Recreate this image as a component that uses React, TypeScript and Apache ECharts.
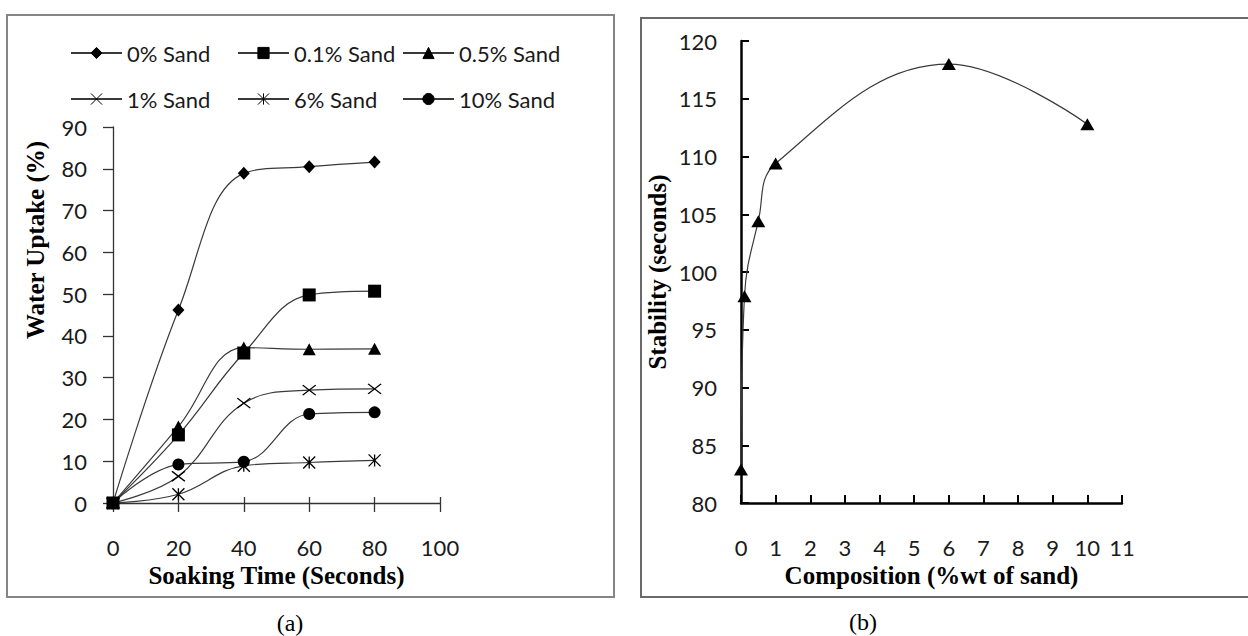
import React, { useEffect, useRef } from 'react';
import * as echarts from 'echarts';

// ---- Data: panel (a) ----
const soakingTime = [0, 20, 40, 60, 80];
const seriesNames = ['0% Sand', '0.1% Sand', '0.5% Sand', '1% Sand', '6% Sand', '10% Sand'];
const uptakeSand0 = [0, 46.2, 78.9, 80.5, 81.6];
const uptakeSand01 = [0, 16.3, 35.9, 49.8, 50.7];
const uptakeSand05 = [0, 18.3, 37.2, 36.8, 36.9];
const uptakeSand1 = [0, 6.4, 23.9, 27.0, 27.3];
const uptakeSand6 = [0, 2.1, 8.9, 9.7, 10.2];
const uptakeSand10 = [0, 9.2, 9.9, 21.3, 21.7];

// ---- Data: panel (b) ----
const composition = [0, 0.1, 0.5, 1, 6, 10];
const stability = [82.9, 97.9, 104.4, 109.4, 118.0, 112.8];

const X_PATH = 'path://M0,0L10,10M10,0L0,10';
const STAR_PATH = 'path://M0,0L10,10M10,0L0,10M5,0L5,10';

const TICK_FONT = 'Lato';
const TITLE_FONT = 'Liberation Serif';

export default function App() {
  const ref = useRef<HTMLDivElement>(null);

  useEffect(() => {
    if (!ref.current) return;
    const chart = echarts.init(ref.current, undefined, { renderer: 'svg' });

    const uptakes = [uptakeSand0, uptakeSand01, uptakeSand05, uptakeSand1, uptakeSand6, uptakeSand10];
    const symbols: any[] = ['diamond', 'rect', 'triangle', X_PATH, STAR_PATH, 'circle'];
    const symbolSizes: any[] = [[12, 13], 13, [13, 12], [13, 10], [12, 12], 12];
    const stroked = [false, false, false, true, true, false];

    const lineSeries = uptakes.map((vals, i) => ({
      name: seriesNames[i],
      type: 'line',
      xAxisIndex: 0,
      yAxisIndex: 0,
      data: soakingTime.map((t, j) => [t, vals[j]]),
      smooth: 0.4,
      symbol: symbols[i],
      symbolSize: symbolSizes[i],
      showAllSymbol: true,
      lineStyle: { color: '#3a3a3a', width: 1.2 },
      itemStyle: stroked[i]
        ? { color: '#000', borderColor: '#000', borderWidth: 1.3 }
        : { color: '#000', borderWidth: 0 },
      emphasis: { disabled: true },
      z: 3,
    }));

    const columns = [[0, 3], [1, 4], [2, 5]];
    const legendLefts = [70, 237, 402];
    const legends = columns.map((c, i) => ({
      left: legendLefts[i],
      top: 42,
      padding: 0,
      orient: 'vertical',
      itemGap: 24,
      itemWidth: 51,
      itemHeight: 14,
      selectedMode: false,
      data: c.map((j) => seriesNames[j]),
      textStyle: { fontFamily: TICK_FONT, fontSize: 22, color: '#1a1a1a', lineHeight: 22 },
      itemStyle: { borderColor: '#000', borderWidth: 1 },
    }));

    const tickLabel = { fontFamily: TICK_FONT, fontSize: 22, color: '#1a1a1a' };
    const titleStyle = { fontFamily: TITLE_FONT, fontWeight: 'bold', fontSize: 25, color: '#000' };

    chart.setOption({
      animation: false,
      backgroundColor: '#fff',
      legend: legends,
      grid: [
        { left: 113, top: 127, width: 327, height: 376 },
        { left: 741, top: 41, width: 381, height: 462 },
      ],
      xAxis: [
        {
          gridIndex: 0, type: 'value', min: 0, max: 100, interval: 20,
          axisLine: { show: true, lineStyle: { color: '#333', width: 1.3 } },
          axisTick: { show: true, inside: false, length: 9, lineStyle: { color: '#333', width: 1.3 } },
          axisLabel: { ...tickLabel, margin: 33 },
          splitLine: { show: false },
          name: 'Soaking Time (Seconds)', nameLocation: 'middle', nameGap: 59,
          nameTextStyle: titleStyle,
        },
        {
          gridIndex: 0, type: 'value', min: 0, max: 100, interval: 20, position: 'bottom',
          axisLine: { show: false },
          axisTick: { show: true, inside: true, length: 6, lineStyle: { color: '#333', width: 1.3 } },
          axisLabel: { show: false },
          splitLine: { show: false },
        },
        {
          gridIndex: 1, type: 'value', min: 0, max: 11, interval: 1,
          axisLine: { show: true, onZero: false, lineStyle: { color: '#000', width: 2.5 } },
          axisTick: { show: true, inside: true, length: 8, lineStyle: { color: '#000', width: 2 } },
          axisLabel: { ...tickLabel, margin: 33 },
          splitLine: { show: false },
          name: 'Composition (%wt of sand)', nameLocation: 'middle', nameGap: 59,
          nameTextStyle: titleStyle,
        },
      ],
      yAxis: [
        {
          gridIndex: 0, type: 'value', min: 0, max: 90, interval: 10,
          axisLine: { show: true, lineStyle: { color: '#333', width: 1.3 } },
          axisTick: { show: true, inside: false, length: 10, lineStyle: { color: '#333', width: 1.3 } },
          axisLabel: { ...tickLabel, margin: 26 },
          splitLine: { show: false },
        },
        {
          gridIndex: 1, type: 'value', min: 80, max: 120, interval: 5,
          axisLine: { show: true, onZero: false, lineStyle: { color: '#000', width: 2.5 } },
          axisTick: { show: true, inside: true, length: 8, lineStyle: { color: '#000', width: 2 } },
          axisLabel: { ...tickLabel, margin: 24 },
          splitLine: { show: false },
        },
      ],
      series: [
        ...lineSeries,
        {
          name: 'Stability',
          type: 'line',
          xAxisIndex: 2,
          yAxisIndex: 1,
          data: composition.map((c, j) => [c, stability[j]]),
          smooth: 0.4,
          symbol: 'triangle',
          symbolSize: [14, 12],
          lineStyle: { color: '#3a3a3a', width: 1.2 },
          itemStyle: { color: '#000', borderWidth: 0 },
          emphasis: { disabled: true },
          z: 3,
        },
      ],
      graphic: [
        {
          type: 'rect', z: -10, silent: true,
          shape: { x: 7, y: 15, width: 607, height: 582 },
          style: { fill: 'none', stroke: '#858585', lineWidth: 2 },
        },
        {
          type: 'rect', z: -10, silent: true,
          shape: { x: 641, y: 18, width: 620, height: 579 },
          style: { fill: 'none', stroke: '#6a6a6a', lineWidth: 2 },
        },
        {
          type: 'text', x: 35, y: 240, rotation: Math.PI / 2,
          style: {
            text: 'Water Uptake (%)', fontFamily: TITLE_FONT, fontWeight: 'bold', fontSize: 25,
            fill: '#000', align: 'center', verticalAlign: 'middle',
          },
        },
        {
          type: 'text', x: 657, y: 272, rotation: Math.PI / 2,
          style: {
            text: 'Stability (seconds)', fontFamily: TITLE_FONT, fontWeight: 'bold', fontSize: 25,
            fill: '#000', align: 'center', verticalAlign: 'middle',
          },
        },
        {
          type: 'text', x: 290, y: 623,
          style: {
            text: '(a)', fontFamily: TITLE_FONT, fontSize: 24, fill: '#000',
            align: 'center', verticalAlign: 'middle',
          },
        },
        {
          type: 'text', x: 863, y: 622,
          style: {
            text: '(b)', fontFamily: TITLE_FONT, fontSize: 24, fill: '#000',
            align: 'center', verticalAlign: 'middle',
          },
        },
      ],
    });

    return () => chart.dispose();
  }, []);

  return (
    <div
      ref={ref}
      style={{ position: 'absolute', left: 0, top: 0, width: 1248, height: 636, background: '#fff' }}
    />
  );
}
